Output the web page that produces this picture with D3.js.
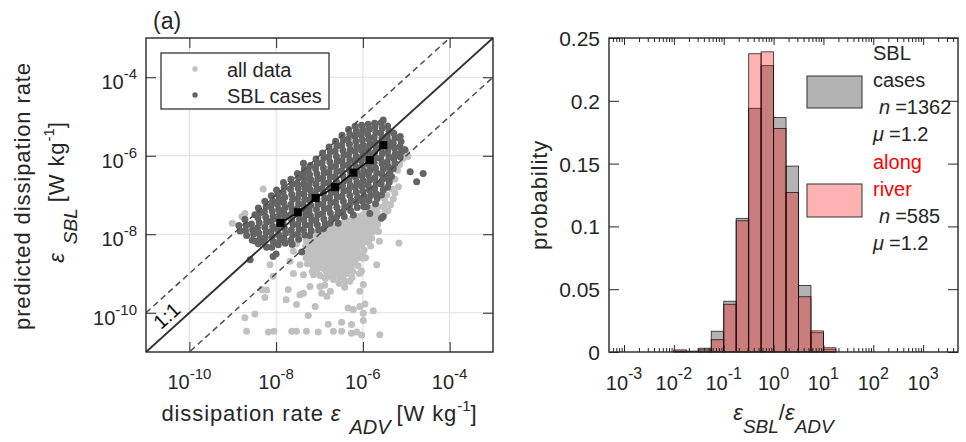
<!DOCTYPE html>
<html><head><meta charset="utf-8">
<script src="https://cdn.jsdelivr.net/npm/d3@7"></script>
<style>
body{margin:0;background:#fff;}
svg{display:block;font-family:"Liberation Sans",Arial,Helvetica,sans-serif;}
</style></head><body>
<svg id="c" width="966" height="442"></svg>
<script>
// ---------------- DATA ----------------
// panel (a): log10 values [eps_ADV, eps_SBL]
const scatterTicks = [1e-10, 1e-8, 1e-6, 1e-4];
const scatterTickExp = ["-10", "-8", "-6", "-4"];
const refLineFactors = [1, 10, 0.1]; // 1:1 and factor-of-10 lines

const allData = [
[-9.01,-7.72],[-8.79,-7.55],[-8.30,-6.85],[-8.72,-7.47],[-8.60,-7.88],
[-8.14,-8.78],[-8.07,-9.07],[-8.33,-9.41],[-8.26,-9.61],[-7.72,-9.41],[-7.77,-9.67],[-7.45,-9.54],[-7.53,-9.79],
[-7.10,-9.84],[-7.26,-10.07],[-8.72,-10.13],[-8.49,-10.03],[-7.37,-9.50],[-7.60,-8.43],[-7.53,-8.25],[-7.68,-8.69],
[-7.45,-8.78],[-7.60,-9.00],[-7.37,-9.03],[-7.14,-9.03],[-7.22,-9.33],[-6.99,-9.33],[-8.22,-9.42],
[-8.68,-10.47],[-8.18,-10.49],[-8.05,-10.47],[-7.64,-10.47],[-7.53,-10.47],[-7.30,-10.47],[-7.03,-10.49],
[-6.68,-10.47],[-6.49,-10.47],[-6.26,-10.52],[-6.14,-10.49],[-6.03,-10.57],[-5.61,-10.56],
[-6.80,-10.29],[-6.49,-10.24],[-6.26,-10.30],[-5.99,-10.20],[-5.99,-10.01],[-5.76,-9.95],[-6.22,-9.92],[-6.34,-9.88],
[-6.07,-9.84],[-5.95,-9.78],[-6.07,-9.45],[-5.99,-9.28],[-6.03,-8.94],[-5.99,-8.61],[-5.68,-8.78],[-5.62,-8.18],
[-5.64,-7.93],[-5.17,-8.22],[-6.87,-9.11],[-6.83,-9.58],[-6.30,-9.20],[-6.95,-9.50],[-6.75,-9.45],[-6.88,-9.30],
[-7.30,-8.15],[-7.32,-8.30],[-7.29,-8.45],[-7.31,-8.60],[-7.28,-8.75],
[-7.15,-8.05],[-7.17,-8.20],[-7.14,-8.35],[-7.16,-8.50],[-7.13,-8.65],[-7.15,-8.80],[-7.17,-8.95],
[-7.00,-7.95],[-7.02,-8.10],[-6.99,-8.25],[-7.01,-8.40],[-6.98,-8.55],[-7.00,-8.70],[-7.02,-8.85],[-6.99,-9.05],
[-6.85,-7.90],[-6.87,-8.05],[-6.84,-8.20],[-6.86,-8.35],[-6.83,-8.50],[-6.85,-8.65],[-6.87,-8.80],[-6.84,-8.95],[-6.86,-9.12],
[-6.70,-7.80],[-6.72,-7.95],[-6.69,-8.10],[-6.71,-8.25],[-6.68,-8.40],[-6.70,-8.55],[-6.72,-8.70],[-6.69,-8.85],[-6.71,-9.00],[-6.68,-9.15],
[-6.55,-7.75],[-6.57,-7.90],[-6.54,-8.05],[-6.56,-8.20],[-6.53,-8.35],[-6.55,-8.50],[-6.57,-8.65],[-6.54,-8.80],[-6.56,-8.95],[-6.53,-9.10],[-6.55,-9.25],
[-6.40,-7.65],[-6.42,-7.80],[-6.39,-7.95],[-6.41,-8.10],[-6.38,-8.25],[-6.40,-8.40],[-6.42,-8.55],[-6.39,-8.70],[-6.41,-8.85],[-6.38,-9.00],[-6.40,-9.20],[-6.42,-9.35],
[-6.25,-7.60],[-6.27,-7.75],[-6.24,-7.90],[-6.26,-8.05],[-6.23,-8.20],[-6.25,-8.35],[-6.27,-8.50],[-6.24,-8.65],[-6.26,-8.80],[-6.23,-8.95],[-6.25,-9.10],
[-6.10,-7.55],[-6.12,-7.70],[-6.09,-7.85],[-6.11,-8.00],[-6.08,-8.15],[-6.10,-8.30],[-6.12,-8.45],[-6.09,-8.60],[-6.11,-8.80],[-6.08,-9.00],
[-5.95,-7.45],[-5.97,-7.60],[-5.94,-7.75],[-5.96,-7.90],[-5.93,-8.05],[-5.95,-8.20],[-5.97,-8.40],[-5.94,-8.60],
[-5.80,-7.35],[-5.82,-7.50],[-5.79,-7.65],[-5.81,-7.80],[-5.78,-7.95],[-5.80,-8.10],[-5.82,-8.30],
[-5.65,-7.30],[-5.67,-7.45],[-5.64,-7.60],[-5.66,-7.75],
[-5.50,-7.10],[-5.52,-7.30],[-5.49,-7.45],
[-7.22,-8.12],[-7.23,-8.27],[-7.21,-8.42],[-7.22,-8.57],[-7.24,-8.72],
[-7.07,-8.02],[-7.08,-8.17],[-7.06,-8.32],[-7.07,-8.47],[-7.09,-8.62],[-7.07,-8.77],[-7.06,-8.92],
[-6.92,-7.97],[-6.93,-8.12],[-6.91,-8.27],[-6.92,-8.42],[-6.94,-8.57],[-6.92,-8.72],[-6.91,-8.87],
[-6.77,-7.87],[-6.78,-8.02],[-6.76,-8.17],[-6.77,-8.32],[-6.79,-8.47],[-6.77,-8.62],[-6.76,-8.77],[-6.78,-8.92],[-6.77,-9.07],
[-6.62,-7.82],[-6.63,-7.97],[-6.61,-8.12],[-6.62,-8.27],[-6.64,-8.42],[-6.62,-8.57],[-6.61,-8.72],[-6.63,-8.87],[-6.62,-9.02],
[-6.47,-7.72],[-6.48,-7.87],[-6.46,-8.02],[-6.47,-8.17],[-6.49,-8.32],[-6.47,-8.47],[-6.46,-8.62],[-6.48,-8.77],[-6.47,-8.92],[-6.46,-9.07],
[-6.32,-7.67],[-6.33,-7.82],[-6.31,-7.97],[-6.32,-8.12],[-6.34,-8.27],[-6.32,-8.42],[-6.31,-8.57],[-6.33,-8.72],[-6.32,-8.87],
[-6.17,-7.62],[-6.18,-7.77],[-6.16,-7.92],[-6.17,-8.07],[-6.19,-8.22],[-6.17,-8.37],[-6.16,-8.52],[-6.18,-8.67],
[-6.02,-7.52],[-6.03,-7.67],[-6.01,-7.82],[-6.02,-7.97],[-6.04,-8.12],[-6.02,-8.27],[-6.01,-8.50],
[-5.87,-7.42],[-5.88,-7.57],[-5.86,-7.72],[-5.87,-7.87],[-5.89,-8.02],[-5.87,-8.20],
[-5.72,-7.37],[-5.73,-7.52],[-5.71,-7.67],[-5.72,-7.85],
[-5.10,-5.80],[-5.00,-5.92],[-4.96,-6.02],[-5.07,-6.07],[-5.15,-6.22],[-5.20,-6.37],[-5.26,-6.60],[-5.18,-6.79],
[-5.26,-6.95],[-5.30,-7.10],[-5.36,-7.25],[-5.42,-7.40],[-5.48,-7.20],[-5.45,-7.00],[-5.33,-6.85]
];

const sblCases = [
[-8.86,-7.78],[-8.83,-7.92],
[-8.72,-7.62],[-8.69,-7.76],[-8.71,-7.90],[-8.68,-8.03],
[-8.57,-7.74],[-8.54,-7.88],[-8.52,-8.00],[-8.55,-8.15],[-8.60,-8.65],[-8.49,-7.50],
[-8.41,-7.33],[-8.38,-7.45],[-8.42,-7.58],[-8.39,-7.71],[-8.43,-7.84],[-8.40,-7.97],[-8.37,-8.10],[-8.41,-8.24],[-8.47,-8.18],
[-8.26,-7.16],[-8.23,-7.30],[-8.27,-7.43],[-8.24,-7.56],[-8.22,-7.69],[-8.26,-7.82],[-8.23,-7.95],[-8.25,-8.08],[-8.28,-8.21],[-8.22,-8.33],
[-8.11,-7.02],[-8.08,-7.15],[-8.12,-7.28],[-8.09,-7.41],[-8.07,-7.54],[-8.11,-7.67],[-8.08,-7.80],[-8.12,-7.93],[-8.09,-8.06],[-8.06,-8.20],[-8.10,-8.33],[-8.07,-8.57],[-8.00,-8.50],
[-7.99,-6.87],[-7.96,-6.98],[-7.93,-7.10],[-7.97,-7.23],[-7.94,-7.36],[-7.92,-7.49],[-7.96,-7.62],[-7.93,-7.75],[-7.97,-7.88],[-7.94,-8.01],[-7.91,-8.14],[-7.95,-8.27],
[-7.83,-6.68],[-7.81,-6.80],[-7.84,-6.93],[-7.80,-7.06],[-7.83,-7.19],[-7.79,-7.32],[-7.82,-7.45],[-7.80,-7.58],[-7.84,-7.71],[-7.81,-7.84],[-7.78,-7.97],[-7.82,-8.10],[-7.79,-8.23],
[-7.66,-6.60],[-7.63,-6.72],[-7.67,-6.85],[-7.64,-6.98],[-7.62,-7.11],[-7.66,-7.24],[-7.63,-7.37],[-7.67,-7.50],[-7.64,-7.63],[-7.61,-7.76],[-7.65,-7.89],[-7.62,-8.02],[-7.66,-8.15],[-7.63,-8.26],
[-7.51,-6.45],[-7.48,-6.57],[-7.52,-6.70],[-7.49,-6.83],[-7.47,-6.96],[-7.51,-7.09],[-7.48,-7.22],[-7.52,-7.35],[-7.49,-7.48],[-7.46,-7.61],[-7.50,-7.74],[-7.47,-7.87],[-7.51,-8.00],[-7.48,-8.13],[-7.41,-8.45],
[-7.37,-6.19],[-7.35,-6.33],[-7.38,-6.46],[-7.34,-6.59],[-7.37,-6.72],[-7.33,-6.85],[-7.36,-6.98],[-7.34,-7.11],[-7.38,-7.24],[-7.35,-7.37],[-7.32,-7.50],[-7.36,-7.63],[-7.33,-7.76],[-7.37,-7.89],[-7.34,-8.02],
[-7.26,-6.36],[-7.21,-6.25],[-7.23,-6.48],[-7.20,-6.61],[-7.24,-6.74],[-7.21,-6.87],[-7.19,-7.00],[-7.23,-7.13],[-7.20,-7.26],[-7.24,-7.39],[-7.21,-7.52],[-7.18,-7.65],[-7.22,-7.78],[-7.19,-7.91],[-7.23,-8.03],
[-7.08,-6.08],[-7.05,-6.20],[-7.09,-6.33],[-7.06,-6.46],[-7.04,-6.59],[-7.08,-6.72],[-7.05,-6.85],[-7.09,-6.98],[-7.06,-7.11],[-7.03,-7.24],[-7.07,-7.37],[-7.04,-7.50],[-7.08,-7.63],[-7.05,-7.76],[-7.02,-7.89],
[-6.93,-5.93],[-6.90,-6.05],[-6.94,-6.18],[-6.91,-6.31],[-6.89,-6.44],[-6.93,-6.57],[-6.90,-6.70],[-6.94,-6.83],[-6.91,-6.96],[-6.88,-7.09],[-6.92,-7.22],[-6.89,-7.35],[-6.93,-7.48],[-6.90,-7.61],[-6.87,-7.74],[-6.91,-7.86],
[-6.78,-5.78],[-6.75,-5.90],[-6.79,-6.03],[-6.76,-6.16],[-6.74,-6.29],[-6.78,-6.42],[-6.75,-6.55],[-6.79,-6.68],[-6.76,-6.81],[-6.73,-6.94],[-6.77,-7.07],[-6.74,-7.20],[-6.78,-7.33],[-6.75,-7.46],[-6.72,-7.59],[-6.76,-7.72],
[-6.63,-5.63],[-6.60,-5.75],[-6.64,-5.88],[-6.61,-6.01],[-6.59,-6.14],[-6.63,-6.27],[-6.60,-6.40],[-6.64,-6.53],[-6.61,-6.66],[-6.58,-6.79],[-6.62,-6.92],[-6.59,-7.05],[-6.63,-7.18],[-6.60,-7.31],[-6.57,-7.44],[-6.61,-7.57],[-6.57,-7.72],
[-6.48,-5.48],[-6.45,-5.60],[-6.49,-5.73],[-6.46,-5.86],[-6.44,-5.99],[-6.48,-6.12],[-6.45,-6.25],[-6.49,-6.38],[-6.46,-6.51],[-6.43,-6.64],[-6.47,-6.77],[-6.44,-6.90],[-6.48,-7.03],[-6.45,-7.16],[-6.42,-7.29],[-6.46,-7.42],[-6.43,-7.55],
[-6.33,-5.33],[-6.30,-5.45],[-6.34,-5.58],[-6.31,-5.71],[-6.29,-5.84],[-6.33,-5.97],[-6.30,-6.10],[-6.34,-6.23],[-6.31,-6.36],[-6.28,-6.49],[-6.32,-6.62],[-6.29,-6.75],[-6.33,-6.88],[-6.30,-7.01],[-6.27,-7.14],[-6.31,-7.27],[-6.28,-7.40],[-6.22,-7.51],
[-6.18,-5.25],[-6.15,-5.37],[-6.19,-5.50],[-6.16,-5.63],[-6.14,-5.76],[-6.18,-5.89],[-6.15,-6.02],[-6.19,-6.15],[-6.16,-6.28],[-6.13,-6.41],[-6.17,-6.54],[-6.14,-6.67],[-6.18,-6.80],[-6.15,-6.93],[-6.12,-7.06],[-6.16,-7.19],[-6.13,-7.32],
[-6.03,-5.22],[-6.00,-5.34],[-6.04,-5.47],[-6.01,-5.60],[-5.99,-5.73],[-6.03,-5.86],[-6.00,-5.99],[-6.04,-6.12],[-6.01,-6.25],[-5.98,-6.38],[-6.02,-6.51],[-5.99,-6.64],[-6.03,-6.77],[-6.00,-6.90],[-5.97,-7.03],[-6.01,-7.16],[-5.98,-7.29],
[-5.88,-5.20],[-5.85,-5.32],[-5.89,-5.45],[-5.86,-5.58],[-5.84,-5.71],[-5.88,-5.84],[-5.85,-5.97],[-5.89,-6.10],[-5.86,-6.23],[-5.83,-6.36],[-5.87,-6.49],[-5.84,-6.62],[-5.88,-6.75],[-5.85,-6.88],[-5.82,-7.01],[-5.86,-7.14],[-5.91,-7.30],[-5.84,-7.47],
[-5.72,-5.26],[-5.73,-5.17],[-5.70,-5.40],[-5.74,-5.53],[-5.71,-5.66],[-5.69,-5.79],[-5.73,-5.92],[-5.70,-6.05],[-5.74,-6.18],[-5.71,-6.31],[-5.68,-6.44],[-5.72,-6.57],[-5.69,-6.70],[-5.73,-6.83],[-5.70,-6.96],[-5.67,-7.09],[-5.71,-7.22],
[-5.53,-5.09],[-5.58,-5.16],[-5.55,-5.29],[-5.59,-5.42],[-5.56,-5.55],[-5.54,-5.68],[-5.58,-5.81],[-5.55,-5.94],[-5.59,-6.07],[-5.56,-6.20],[-5.53,-6.33],[-5.57,-6.46],[-5.54,-6.59],[-5.58,-6.72],[-5.53,-6.87],[-5.57,-7.00],[-5.53,-7.55],[-5.57,-7.59],
[-5.43,-5.24],[-5.40,-5.37],[-5.44,-5.50],[-5.41,-5.63],[-5.39,-5.76],[-5.43,-5.89],[-5.40,-6.02],[-5.44,-6.15],[-5.41,-6.28],[-5.38,-6.41],[-5.42,-6.54],[-5.39,-6.67],[-5.43,-6.80],
[-5.29,-5.42],[-5.26,-5.55],[-5.30,-5.68],[-5.27,-5.81],[-5.25,-5.94],[-5.29,-6.07],[-5.26,-6.20],[-5.30,-6.33],[-5.34,-6.53],
[-5.14,-5.51],[-5.12,-5.64],[-5.15,-5.77],[-5.11,-5.90],[-5.14,-6.03],
[-5.03,-5.85],[-4.91,-6.41],[-4.61,-6.45],[-4.76,-6.66]
];

// bin-averaged SBL cases (log10)
const binnedX = [-7.90, -7.50, -7.09, -6.64, -6.22, -5.84, -5.53];
const binnedY = [-7.71, -7.44, -7.08, -6.80, -6.43, -6.11, -5.73];

// panel (b): histogram of eps_SBL/eps_ADV, log10 bin edges
const binEdges  = [-2.0,-1.75,-1.5,-1.25,-1.0,-0.75,-0.5,-0.25,0,0.25,0.5,0.75,1.0,1.25];
const probSBL   = [0.0007,0.0007,0.0030,0.0165,0.0404,0.1064,0.1940,0.2280,0.1867,0.1480,0.0530,0.0154,0.0022];
const probRiver = [0.0017,0.0000,0.0017,0.0098,0.0380,0.1045,0.2375,0.2390,0.1780,0.1270,0.0440,0.0168,0.0034];
const histYTicks = [0, 0.05, 0.1, 0.15, 0.2, 0.25];
const histYTickLabels = ["0", "0.05", "0.1", "0.15", "0.2", "0.25"];
const histXTicks = [1e-3, 1e-2, 1e-1, 1e0, 1e1, 1e2, 1e3];
const histXTickExp = ["-3", "-2", "-1", "0", "1", "2", "3"];
const legendSBL = ["SBL", "cases", "1362", "1.2"];
const legendRiver = ["along", "river", "585", "1.2"];

// ---------------- DRAWING ----------------
const svg = d3.select("#c");
const ink = "#262626";
const toVal = v => Math.pow(10, v);
const R_PT = 3.5;

// ===== Panel (a) =====
const L = {x0: 146, x1: 493, y0: 38, y1: 352};
const xL = d3.scaleLog().domain([1e-11, 1e-3]).range([L.x0, L.x1]);
const yL = d3.scaleLog().domain([1e-11, 1e-3]).range([L.y1, L.y0]);

svg.append("clipPath").attr("id", "clipL").append("rect")
  .attr("x", L.x0).attr("y", L.y0).attr("width", L.x1 - L.x0).attr("height", L.y1 - L.y0);

const gA = svg.append("g");
// grid
gA.selectAll("line.gx").data(scatterTicks).join("line")
  .attr("x1", d => xL(d)).attr("x2", d => xL(d)).attr("y1", L.y0).attr("y2", L.y1)
  .attr("stroke", "#dedede").attr("stroke-width", 1);
gA.selectAll("line.gy").data(scatterTicks).join("line")
  .attr("y1", d => yL(d)).attr("y2", d => yL(d)).attr("x1", L.x0).attr("x2", L.x1)
  .attr("stroke", "#dedede").attr("stroke-width", 1);

const gPts = gA.append("g").attr("clip-path", "url(#clipL)");
gPts.selectAll("circle.all").data(allData).join("circle")
  .attr("cx", d => xL(toVal(d[0]))).attr("cy", d => yL(toVal(d[1]))).attr("r", R_PT)
  .attr("fill", "#c0c0c0");
gPts.selectAll("circle.sbl").data(sblCases).join("circle")
  .attr("cx", d => xL(toVal(d[0]))).attr("cy", d => yL(toVal(d[1]))).attr("r", R_PT)
  .attr("fill", "#646464");

// reference lines
const dom = xL.domain();
gPts.selectAll("line.ref").data(refLineFactors).join("line")
  .attr("x1", xL(dom[0])).attr("y1", f => yL(dom[0] * f))
  .attr("x2", xL(dom[1])).attr("y2", f => yL(dom[1] * f))
  .attr("stroke", f => f === 1 ? "#333" : "#4d4d4d")
  .attr("stroke-width", f => f === 1 ? 2 : 1.5)
  .attr("stroke-dasharray", f => f === 1 ? null : "6,4");

// binned line
const binned = binnedX.map((v, i) => [toVal(v), toVal(binnedY[i])]);
gPts.append("path").datum(binned)
  .attr("d", d3.line().x(d => xL(d[0])).y(d => yL(d[1])))
  .attr("fill", "none").attr("stroke", "#000").attr("stroke-width", 1.5);
gPts.selectAll("rect.bin").data(binned).join("rect")
  .attr("x", d => xL(d[0]) - 4).attr("y", d => yL(d[1]) - 4)
  .attr("width", 8).attr("height", 8).attr("fill", "#000");

// 1:1 label
const lblPt = [toVal(-10.5), toVal(-10.0)];
gA.append("text").attr("transform", `translate(${xL(lblPt[0]) - 1},${yL(lblPt[1]) + 3}) rotate(-42)`)
  .attr("text-anchor", "middle").attr("dominant-baseline", "central")
  .attr("font-size", 20).attr("fill", "#111").text("1:1");

// axes ticks (inward, all four sides)
function ticks(g, axis, tr) {
  const a = g.append("g").attr("transform", tr).call(axis);
  a.select(".domain").remove();
  a.selectAll("line").attr("stroke", ink);
  a.selectAll("text").remove();
  return a;
}
ticks(svg, d3.axisTop(xL).tickValues(scatterTicks).tickSize(10).tickFormat(""), `translate(0,${L.y1})`);
ticks(svg, d3.axisBottom(xL).tickValues(scatterTicks).tickSize(10).tickFormat(""), `translate(0,${L.y0})`);
ticks(svg, d3.axisRight(yL).tickValues(scatterTicks).tickSize(10).tickFormat(""), `translate(${L.x0},0)`);
ticks(svg, d3.axisLeft(yL).tickValues(scatterTicks).tickSize(10).tickFormat(""), `translate(${L.x1},0)`);

svg.append("rect").attr("x", L.x0).attr("y", L.y0).attr("width", L.x1 - L.x0).attr("height", L.y1 - L.y0)
  .attr("fill", "none").attr("stroke", ink).attr("stroke-width", 1.4);

function powLabel(x, y, exp, anchor, fs, efs, edy) {
  const t = svg.append("text").attr("x", x).attr("y", y).attr("text-anchor", anchor)
    .attr("font-size", fs).attr("fill", ink);
  t.append("tspan").text("10");
  t.append("tspan").attr("dy", edy).attr("font-size", efs).text(exp);
  return t;
}
scatterTicks.forEach((v, i) => {
  powLabel(xL(v), L.y1 + 37, scatterTickExp[i], "middle", 20, 15, -10);
  powLabel(L.x0 - 9, yL(v) + 12, scatterTickExp[i], "end", 20, 15, -10);
});

// legend (a)
const lg = svg.append("g");
lg.append("rect").attr("x", 161).attr("y", 53).attr("width", 168).attr("height", 56)
  .attr("fill", "#fff").attr("stroke", ink).attr("stroke-width", 1.2);
[["all data", "#c0c0c0", 69], ["SBL cases", "#646464", 95]].forEach(([t, c, y]) => {
  lg.append("circle").attr("cx", 195).attr("cy", y).attr("r", 2.7).attr("fill", c);
  lg.append("text").attr("x", 227).attr("y", y + 8).attr("font-size", 20).attr("fill", ink).text(t);
});

// (a)
svg.append("text").attr("x", 153).attr("y", 29).attr("font-size", 23).attr("fill", ink).text("(a)");

// axis labels (a)
const xlab = svg.append("text").attr("x", (L.x0 + L.x1) / 2).attr("y", 421).attr("text-anchor", "middle")
  .attr("font-size", 22).attr("fill", ink).attr("letter-spacing", 0.9);
xlab.append("tspan").text("dissipation rate ");
xlab.append("tspan").attr("font-style", "italic").text("ε");
xlab.append("tspan").attr("dx", 8).attr("dy", 13).attr("font-size", 20).attr("font-style", "italic").attr("letter-spacing", 0).text("ADV");
xlab.append("tspan").attr("dx", 6).attr("dy", -13).text("[W kg");
xlab.append("tspan").attr("dy", -10).attr("font-size", 15).attr("letter-spacing", 0).text("-1");
xlab.append("tspan").attr("dy", 10).text("]");

svg.append("text").attr("transform", "translate(30,196) rotate(-90)").attr("text-anchor", "middle")
  .attr("font-size", 22).attr("fill", ink).attr("letter-spacing", 0.9).text("predicted dissipation rate");
const ylab = svg.append("text").attr("transform", "translate(64,192) rotate(-90)").attr("text-anchor", "middle")
  .attr("font-size", 22).attr("fill", ink).attr("letter-spacing", 0.9);
ylab.append("tspan").attr("font-style", "italic").text("ε");
ylab.append("tspan").attr("dx", 8).attr("dy", 13).attr("font-size", 19).attr("font-style", "italic").attr("letter-spacing", 0).text("SBL");
ylab.append("tspan").attr("dx", 6).attr("dy", -13).text("[W kg");
ylab.append("tspan").attr("dy", -10).attr("font-size", 15).attr("letter-spacing", 0).text("-1");
ylab.append("tspan").attr("dy", 10).text("]");

// ===== Panel (b) =====
const R = {x0: 609, x1: 958, y0: 38, y1: 352};
const xH = d3.scaleLog().domain([5e-4, 5e3]).range([R.x0, R.x1]);
const yH = d3.scaleLinear().domain([0, 0.25]).range([R.y1, R.y0]);

const bins = binEdges.slice(0, -1).map((e, i) => ({
  x0: toVal(e), x1: toVal(binEdges[i + 1]), sbl: probSBL[i], riv: probRiver[i]
}));
const gH = svg.append("g");
gH.selectAll("rect.sbl").data(bins.filter(d => d.sbl > 0)).join("rect")
  .attr("x", d => xH(d.x0)).attr("width", d => xH(d.x1) - xH(d.x0))
  .attr("y", d => yH(d.sbl)).attr("height", d => yH(0) - yH(d.sbl))
  .attr("fill", "#808080").attr("fill-opacity", 0.6)
  .attr("stroke", "#000").attr("stroke-opacity", 0.75).attr("stroke-width", 0.9);
gH.selectAll("rect.riv").data(bins.filter(d => d.riv > 0)).join("rect")
  .attr("x", d => xH(d.x0)).attr("width", d => xH(d.x1) - xH(d.x0))
  .attr("y", d => yH(d.riv)).attr("height", d => yH(0) - yH(d.riv))
  .attr("fill", "#ff0000").attr("fill-opacity", 0.3)
  .attr("stroke", "#000").attr("stroke-opacity", 0.75).attr("stroke-width", 0.9);

// minor log ticks
const minorTicks = [];
for (let e = -4; e <= 3; e++) for (let m = 2; m <= 9; m++) {
  const v = m * Math.pow(10, e);
  if (v > xH.domain()[0] * 1.001 && v < xH.domain()[1] * 0.999) minorTicks.push(v);
}
ticks(svg, d3.axisTop(xH).tickValues(histXTicks).tickSize(7).tickFormat(""), `translate(0,${R.y1})`);
ticks(svg, d3.axisTop(xH).tickValues(minorTicks).tickSize(4).tickFormat(""), `translate(0,${R.y1})`);
ticks(svg, d3.axisBottom(xH).tickValues(histXTicks).tickSize(7).tickFormat(""), `translate(0,${R.y0})`);
ticks(svg, d3.axisBottom(xH).tickValues(minorTicks).tickSize(4).tickFormat(""), `translate(0,${R.y0})`);
ticks(svg, d3.axisRight(yH).tickValues(histYTicks).tickSize(10).tickFormat(""), `translate(${R.x0},0)`);
ticks(svg, d3.axisLeft(yH).tickValues(histYTicks).tickSize(10).tickFormat(""), `translate(${R.x1},0)`);
svg.append("rect").attr("x", R.x0).attr("y", R.y0).attr("width", R.x1 - R.x0).attr("height", R.y1 - R.y0)
  .attr("fill", "none").attr("stroke", ink).attr("stroke-width", 1.4);

histXTicks.forEach((v, i) => powLabel(xH(v), R.y1 + 38, histXTickExp[i], "middle", 20, 16, -11));
histYTicks.forEach((v, i) => {
  svg.append("text").attr("x", R.x0 - 9).attr("y", yH(v) + 8).attr("text-anchor", "end")
    .attr("font-size", 21).attr("fill", ink).text(histYTickLabels[i]);
});

// axis labels (b)
svg.append("text").attr("transform", "translate(547,195) rotate(-90)").attr("text-anchor", "middle")
  .attr("font-size", 22).attr("fill", ink).attr("letter-spacing", 0.9).text("probability");
const xlab2 = svg.append("text").attr("x", (R.x0 + R.x1) / 2).attr("y", 420).attr("text-anchor", "middle")
  .attr("font-size", 22).attr("fill", ink);
xlab2.append("tspan").attr("font-style", "italic").text("ε");
xlab2.append("tspan").attr("dy", 13).attr("font-size", 19).attr("font-style", "italic").text("SBL");
xlab2.append("tspan").attr("dy", -13).text("/");
xlab2.append("tspan").attr("font-style", "italic").text("ε");
xlab2.append("tspan").attr("dy", 13).attr("font-size", 19).attr("font-style", "italic").text("ADV");

// legend (b)
const lb = svg.append("g");
lb.append("rect").attr("x", 807).attr("y", 76).attr("width", 55).attr("height", 32)
  .attr("fill", "#808080").attr("fill-opacity", 0.6).attr("stroke", "#333").attr("stroke-width", 1);
lb.append("rect").attr("x", 807).attr("y", 184).attr("width", 55).attr("height", 33)
  .attr("fill", "#ff0000").attr("fill-opacity", 0.3).attr("stroke", "#333").attr("stroke-width", 1);
function legendBlock(items, y0, color) {
  const tx = 873, dyL = 27.3;
  lb.append("text").attr("x", tx).attr("y", y0).attr("font-size", 20).attr("fill", color).text(items[0]);
  lb.append("text").attr("x", tx).attr("y", y0 + dyL).attr("font-size", 20).attr("fill", color).text(items[1]);
  const n = lb.append("text").attr("x", tx + 6).attr("y", y0 + 2 * dyL).attr("font-size", 20).attr("fill", ink);
  n.append("tspan").attr("font-style", "italic").text("n");
  n.append("tspan").attr("dx", 5).text("=" + items[2]);
  const m = lb.append("text").attr("x", tx).attr("y", y0 + 3 * dyL).attr("font-size", 20).attr("fill", ink);
  m.append("tspan").attr("font-style", "italic").text("μ");
  m.append("tspan").attr("dx", 5).text("=" + items[3]);
}
legendBlock(legendSBL, 59.5, ink);
legendBlock(legendRiver, 168.5, "#ff0000");
</script>
</body></html>
